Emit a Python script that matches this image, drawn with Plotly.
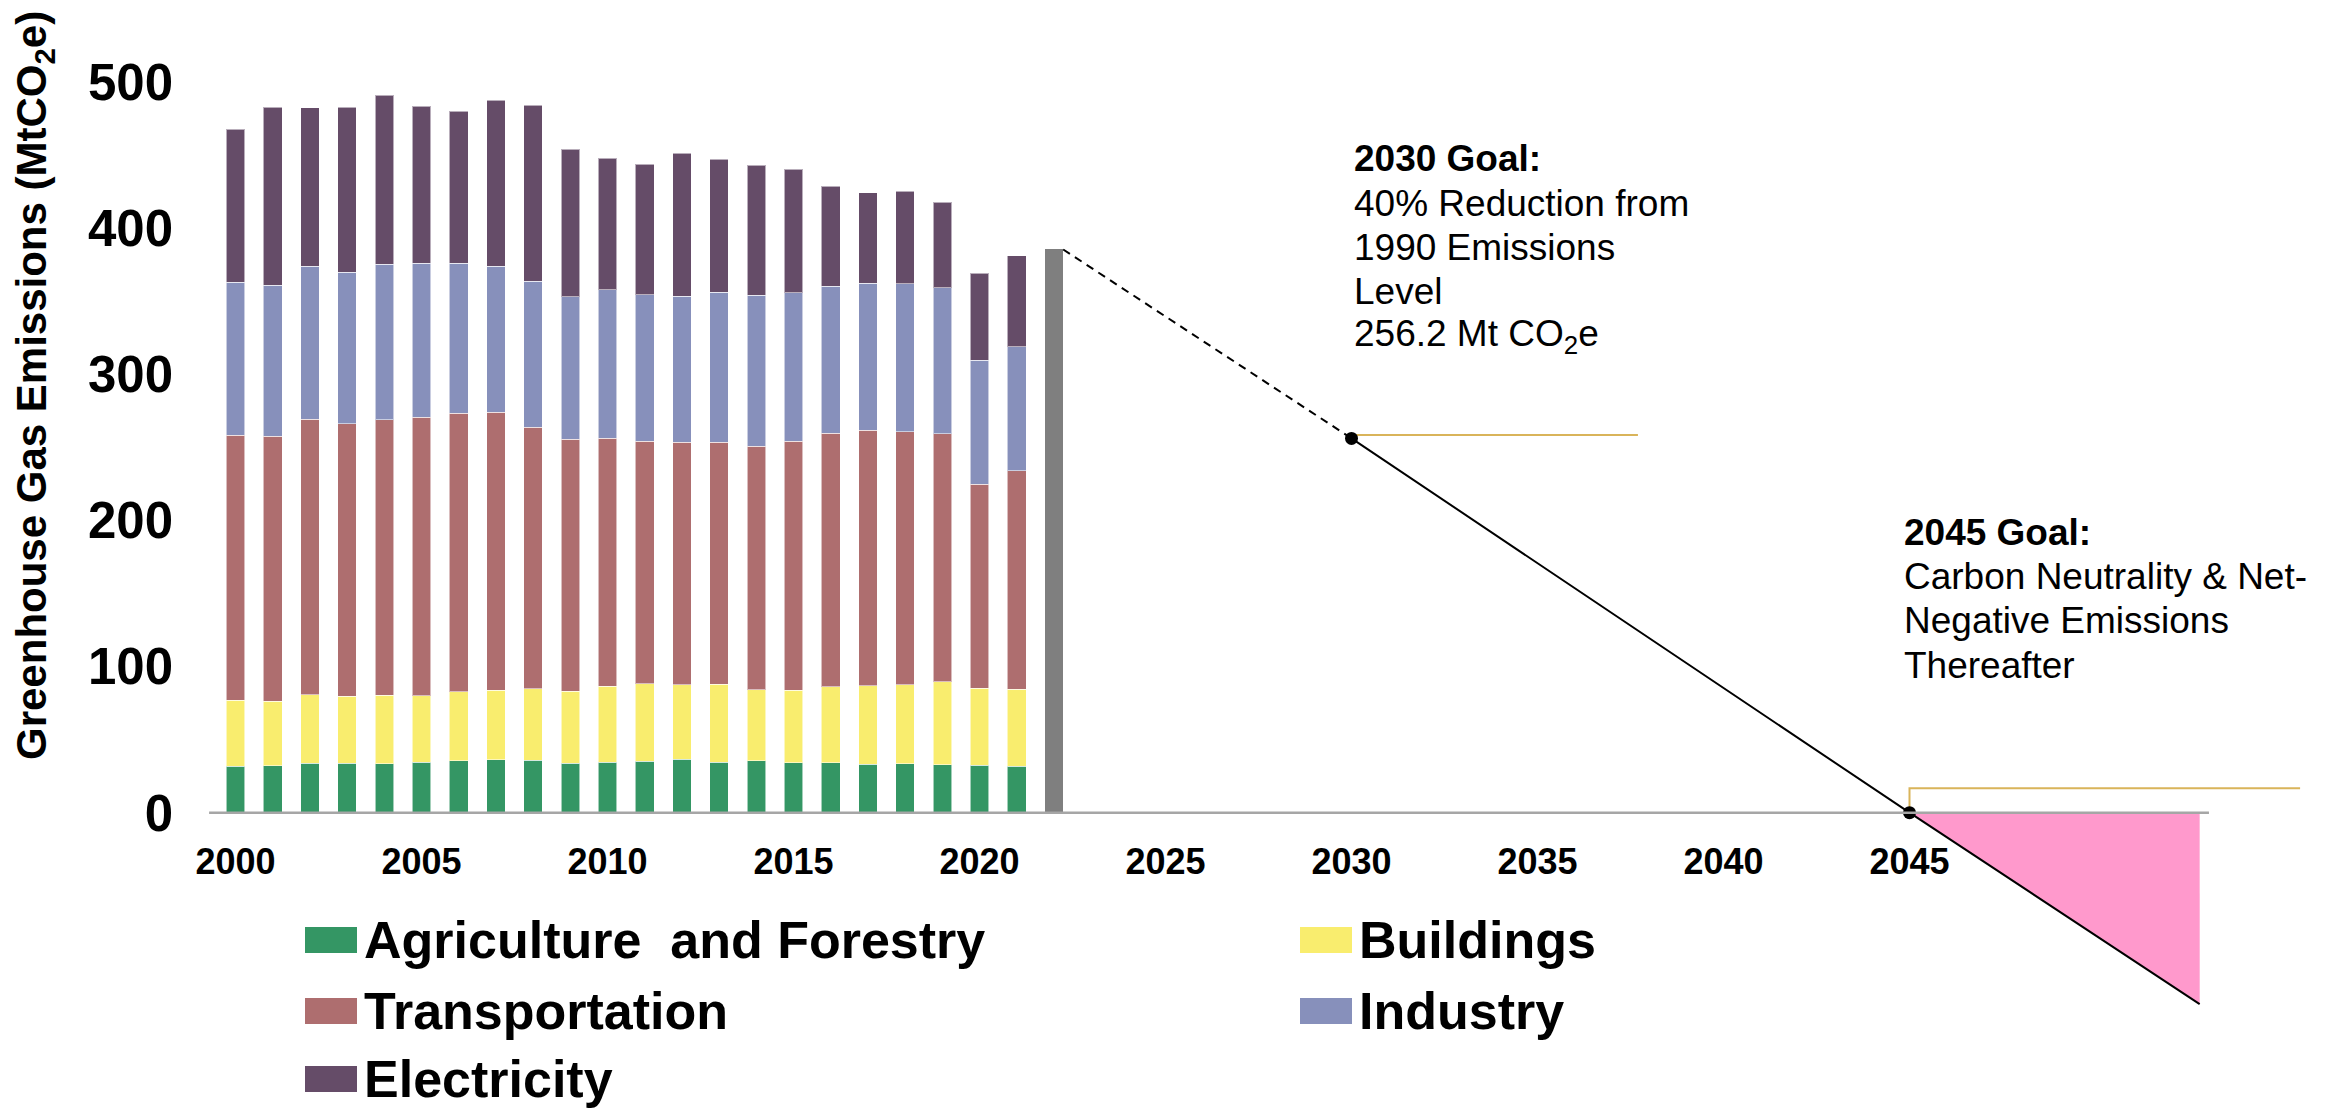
import plotly.graph_objects as go

# ---------------- data ----------------
years = list(range(2000, 2022))
agriculture = [31.7, 32.0, 34.0, 34.0, 33.4, 34.4, 35.5, 36.1, 35.8, 33.8, 34.4,
               35.1, 36.5, 34.4, 35.5, 34.1, 34.1, 33.1, 33.4, 32.7, 32.4, 31.7]
buildings = [45.3, 44.4, 46.8, 45.8, 47.1, 45.7, 47.4, 47.8, 49.1, 49.4, 52.2,
             53.2, 51.1, 53.6, 48.7, 49.8, 52.2, 53.8, 54.2, 57.0, 52.8, 52.9]
transportation = [181.4, 181.4, 188.6, 186.5, 188.5, 190.6, 190.5, 190.1, 179.0, 172.5, 169.8,
                  166.0, 166.1, 165.7, 166.7, 170.4, 173.5, 174.9, 173.2, 169.8, 139.5, 149.3]
industry = [104.6, 103.2, 104.6, 103.7, 106.4, 105.3, 102.6, 100.0, 99.9, 97.5, 101.6,
            100.3, 99.9, 102.6, 103.3, 101.7, 100.6, 100.6, 101.3, 99.9, 84.9, 84.9]
electricity = [104.8, 122.0, 108.4, 112.8, 115.6, 107.5, 104.0, 113.6, 120.3, 100.9, 90.0,
               89.3, 97.8, 91.0, 89.0, 84.5, 68.5, 62.1, 63.1, 58.6, 59.6, 62.4]

bridge_year = [2022]
bridge_value = [385.5]

dash_years = [2022.25, 2030]
dash_values = [385.5, 256.2]

path_years = [2030, 2045, 2052.8]
path_values = [256.2, 0, -131]

negative_years = [2045, 2052.8, 2052.8]
negative_values = [0, 0, -131]

goal_years = [2030, 2045]
goal_values = [256.2, 0]

leader2030_x = [2030, 2037.7]
leader2030_y = [258.5, 258.5]
leader2045_x = [2045, 2045, 2055.5]
leader2045_y = [0, 16.7, 16.7]

axis_line_x = [1999.29, 2053.05]

x_tickvals = [2000, 2005, 2010, 2015, 2020, 2025, 2030, 2035, 2040, 2045]
y_tickvals = [0, 100, 200, 300, 400, 500]

sector_names = ["Agriculture\u00a0 and Forestry", "Buildings", "Transportation", "Industry", "Electricity"]
sector_colors = ["#349664", "#F9ED6E", "#AE6E6F", "#8790BB", "#654C68"]

# ---------------- geometry helpers (pixel -> axis units) ----------------
W, H = 2328, 1113
ML = 200
X0PX, PXYR = 235.5, 37.2
Y0PX, PXU = 812.7, 1.461


def yr(px):
    return 2000 + (px - X0PX) / PXYR


def val(py):
    return (Y0PX - py) / PXU


FONT = "Liberation Sans, Arial, sans-serif"

fig = go.Figure()

series = [agriculture, buildings, transportation, industry, electricity]
for name, color, vals in zip(sector_names, sector_colors, series):
    fig.add_trace(go.Bar(
        x=years, y=vals, name=name, width=0.5,
        marker=dict(color=color, line=dict(width=1, color="rgba(255,255,255,0.55)")),
        showlegend=False,
    ))

fig.add_trace(go.Bar(x=bridge_year, y=bridge_value, width=0.5,
                     marker=dict(color="#7F7F7F", line=dict(width=0)), showlegend=False))

fig.add_trace(go.Scatter(x=negative_years, y=negative_values, fill="toself",
                         fillcolor="#FF99CC", mode="lines", line=dict(width=0),
                         showlegend=False))

fig.add_trace(go.Scatter(x=dash_years, y=dash_values, mode="lines",
                         line=dict(color="black", width=2, dash="8px,6px"), showlegend=False))
fig.add_trace(go.Scatter(x=path_years, y=path_values, mode="lines",
                         line=dict(color="black", width=2), showlegend=False))

fig.add_trace(go.Scatter(x=leader2030_x, y=leader2030_y, mode="lines",
                         line=dict(color="#D9B45A", width=2), showlegend=False))
fig.add_trace(go.Scatter(x=leader2045_x, y=leader2045_y, mode="lines",
                         line=dict(color="#D9B45A", width=2), showlegend=False))

fig.add_trace(go.Scatter(x=goal_years, y=goal_values, mode="markers",
                         marker=dict(color="black", size=13), showlegend=False))

shapes = [dict(type="line", xref="x", yref="y", x0=axis_line_x[0], x1=axis_line_x[1],
               y0=0, y1=0, line=dict(color="#A6A6A6", width=2.5))]

annotations = []

# goal texts
goal2030 = ["<b>2030 Goal:</b>", "40% Reduction from", "1990 Emissions", "Level",
            "256.2 Mt CO<sub>2</sub>e"]
goal2030_py = [158.7, 203.7, 247.0, 291.3, 336.3]
for t, py in zip(goal2030, goal2030_py):
    annotations.append(dict(x=yr(1351.7), y=val(py), xref="x", yref="y", text=t,
                            showarrow=False, xanchor="left", yanchor="middle",
                            font=dict(family=FONT, size=37, color="black")))

goal2045 = ["<b>2045 Goal:</b>", "Carbon Neutrality & Net-", "Negative Emissions", "Thereafter"]
goal2045_py = [532.0, 576.3, 620.3, 665.3]
for t, py in zip(goal2045, goal2045_py):
    annotations.append(dict(x=yr(1901.9), y=val(py), xref="x", yref="y", text=t,
                            showarrow=False, xanchor="left", yanchor="middle",
                            font=dict(family=FONT, size=37, color="black")))

# y-axis title
annotations.append(dict(x=(34 - ML) / (W - ML), y=(H - 386) / H, xref="paper", yref="paper",
                        text="<b>Greenhouse Gas Emissions (MtCO<sub>2</sub>e)</b>",
                        textangle=-90, showarrow=False, xanchor="center", yanchor="middle",
                        font=dict(family=FONT, size=42, color="black")))

# manual legend
legend_layout = [(0, 0, 0), (1, 1, 0), (2, 0, 1), (3, 1, 1), (4, 0, 2)]
col_px = [305, 1300]
row_py = [940, 1011, 1079]
for idx, col, row in legend_layout:
    x0 = col_px[col]
    cy = row_py[row]
    shapes.append(dict(type="rect", xref="x", yref="y", x0=yr(x0), x1=yr(x0 + 52),
                       y0=val(cy - 13), y1=val(cy + 13), fillcolor=sector_colors[idx],
                       line=dict(width=0)))
    annotations.append(dict(x=yr(x0 + 57), y=val(cy), xref="x", yref="y",
                            text="<b>" + sector_names[idx] + "</b>", showarrow=False,
                            xanchor="left", yanchor="middle",
                            font=dict(family=FONT, size=52, color="black")))

fig.update_layout(
    width=W, height=H,
    margin=dict(l=ML, r=0, t=0, b=0, pad=0),
    paper_bgcolor="white", plot_bgcolor="white",
    barmode="stack",
    shapes=shapes, annotations=annotations,
    showlegend=False,
    xaxis=dict(range=[yr(ML), yr(W)], tickvals=x_tickvals,
               ticktext=[str(v) for v in x_tickvals],
               showline=False, showgrid=False, zeroline=False, ticks="",
               anchor="free", position=(H - Y0PX) / H,
               ticklabelstandoff=24,
               tickfont=dict(family=FONT, size=36, color="black", weight="bold")),
    yaxis=dict(range=[val(H), val(0)], tickvals=y_tickvals,
               ticktext=[str(v) for v in y_tickvals],
               showline=False, showgrid=False, zeroline=False, ticks="",
               ticklabelstandoff=26,
               tickfont=dict(family=FONT, size=51, color="black", weight="bold")),
)

fig.write_html("out.html")
